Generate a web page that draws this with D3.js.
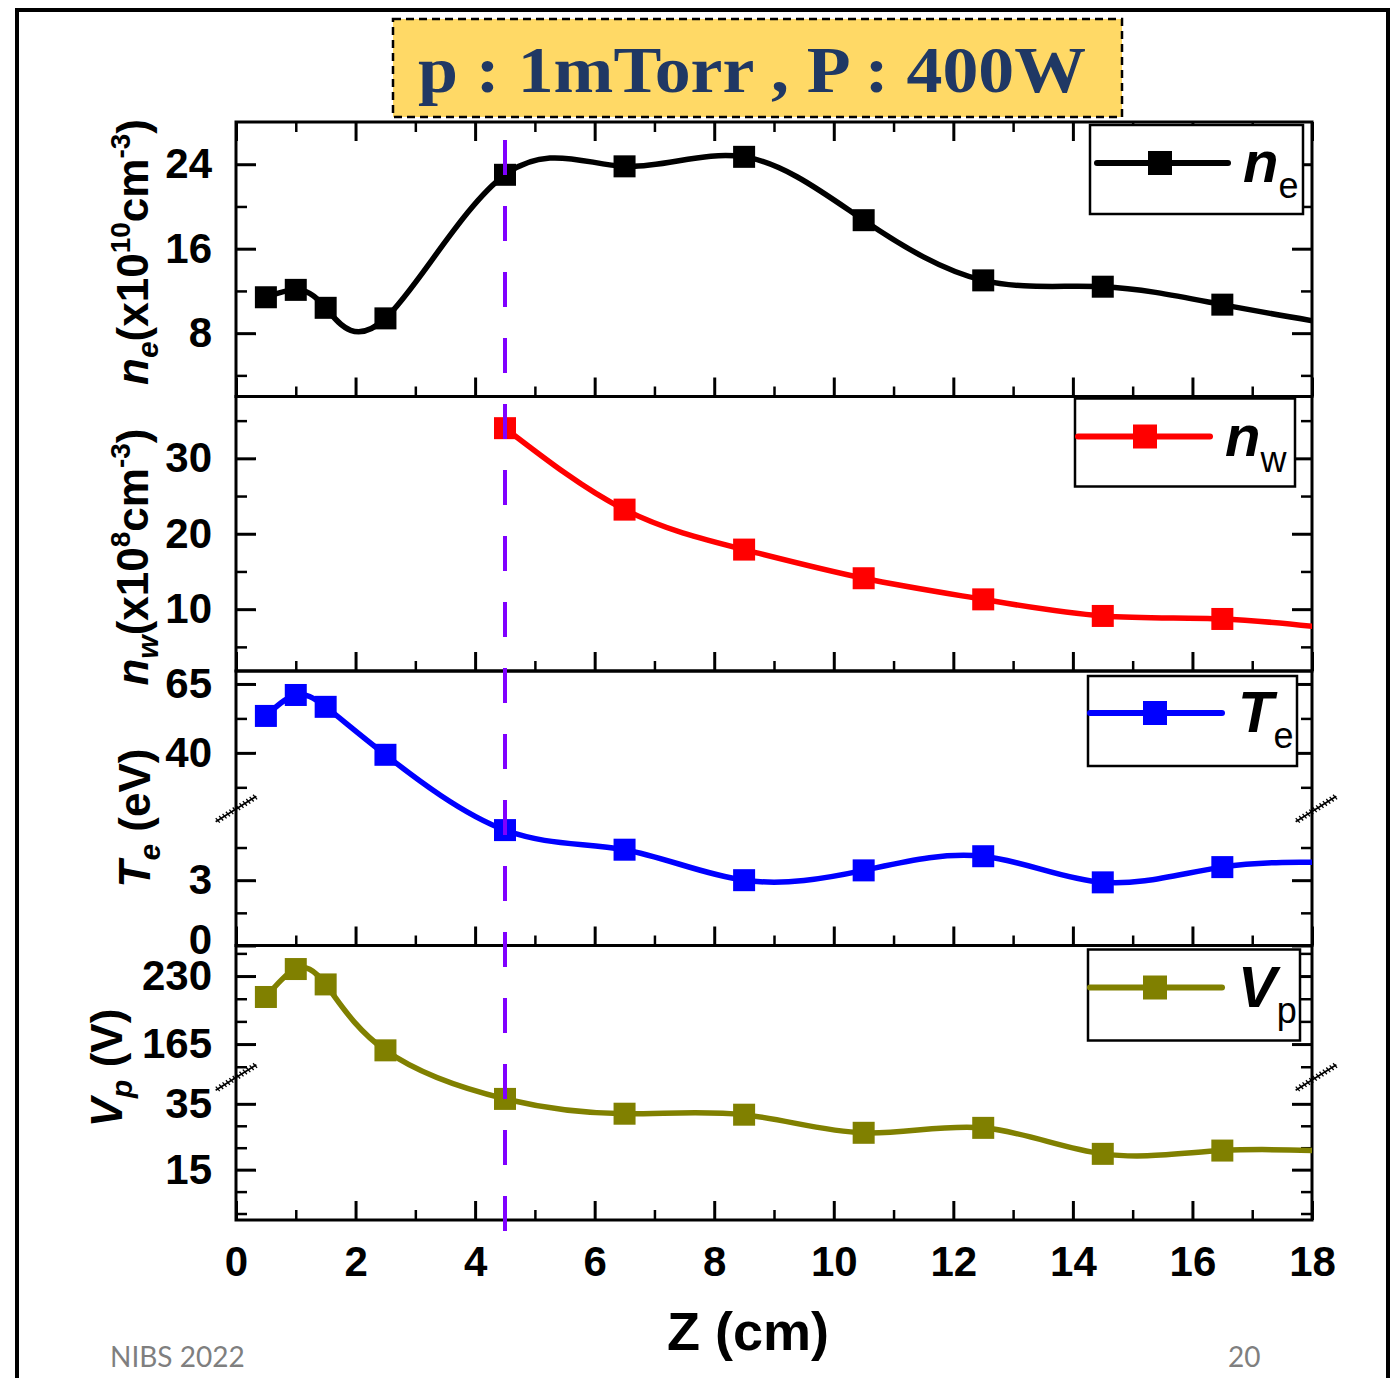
<!DOCTYPE html>
<html>
<head>
<meta charset="utf-8">
<script src="https://cdn.jsdelivr.net/npm/d3@7"></script>
<style>
body{margin:0;background:#fff;}
svg{display:block;}
.tick text{font-family:"Liberation Sans",Arial,sans-serif;font-weight:bold;font-size:42px;fill:#000;}
</style>
</head>
<body>
<div id="vis"></div>
<script>
// measured positions (cm); 18.5 lies just past the frame and gets clipped
var zPos   = [0.5, 1, 1.5, 2.5, 4.5, 6.5, 8.5, 10.5, 12.5, 14.5, 16.5, 18.5];
var neVals = [11.4, 12.1, 10.4, 9.4, 23.0, 23.8, 24.7, 18.7, 13.0, 12.4, 10.7, 8.7];
var nwZ    = [4.5, 6.5, 8.5, 10.5, 12.5, 14.5, 16.5, 18.5];
var nwVals = [34.0, 23.2, 17.9, 14.1, 11.3, 9.1, 8.7, 7.3];
var teVals = [53.4, 61.0, 56.7, 39.3, 5.3, 4.4, 3.0, 3.45, 4.1, 2.9, 3.6, 3.8];
var vpVals = [210, 236.7, 222, 159, 36.5, 32, 31.7, 26.2, 27.7, 19.8, 20.8, 20.5];

// tick values
var xMajor  = [0, 2, 4, 6, 8, 10, 12, 14, 16, 18];
var xMinor  = [1, 3, 5, 7, 9, 11, 13, 15, 17];
var neMajor = [8, 16, 24];
var neMinor = [4, 12, 20];
var nwMajor = [10, 20, 30];
var nwMinor = [5, 15, 25, 35];
var teMajor = [0, 3, 40, 65];
var teMinor = [1.5, 4.5, 27.5, 52.5];
var vpMajor = [15, 35, 165, 230];
var vpMinor = [1.67, 8.33, 21.67, 28.33, 143.33, 186.67, 208.33, 251.67];

var dashZ = 4.5;   // purple marker line

var width = 1398, height = 1378;
var xLeft = 236, xRight = 1312, plotTop = 122, panelH = 274.5;

var svg = d3.select("#vis").append("svg").attr("width", width).attr("height", height);

var x = d3.scaleLinear().domain([0, 18]).range([xLeft, xRight]);

// outer slide frame
svg.append("rect").attr("x", 17).attr("y", 10).attr("width", 1371).attr("height", 1420)
   .attr("fill", "none").attr("stroke", "#000").attr("stroke-width", 4);

// title box
svg.append("rect").attr("x", 393).attr("y", 19).attr("width", 729).attr("height", 98)
   .attr("fill", "#FFD966").attr("stroke", "#000").attr("stroke-width", 2.5)
   .attr("stroke-dasharray", "8,5");
svg.append("text").attr("x", 418).attr("y", 92)
   .attr("textLength", 668).attr("lengthAdjust", "spacingAndGlyphs")
   .style("font-family", "'Liberation Serif','DejaVu Serif',serif").style("font-weight", "bold")
   .style("font-size", "66px").style("fill", "#203864")
   .text("p : 1mTorr , P : 400W");

var panels = [
  {z: zPos, v: neVals, color: "#000000", domain: [2, 28], range: [panelH, 0],
   major: neMajor, minor: neMinor, brk: null,
   leg: {x0: 1090, x1: 1303, y0: 3, y1: 92, ly: 41, lx0: 1097, lx1: 1228, mx: 1160, tx: 1243, main: "n", sub: "e"},
   title: [["n", 44, 0, "italic"], ["e", 30, 10, "italic"], ["(x10", 44, -10], ["10", 28, -18], ["cm", 44, 18], ["-3", 28, -18], [")", 44, 18]],
   tx: 148, ty: 252},
  {z: nwZ, v: nwVals, color: "#ff0000", domain: [1.8, 38.2], range: [panelH, 0],
   major: nwMajor, minor: nwMinor, brk: null,
   leg: {x0: 1075, x1: 1295, y0: 2, y1: 90, ly: 40, lx0: 1078, lx1: 1210, mx: 1145, tx: 1225, main: "n", sub: "w"},
   title: [["n", 44, 0, "italic"], ["w", 30, 10, "italic"], ["(x10", 44, -10], ["8", 28, -18], ["cm", 44, 18], ["-3", 28, -18], [")", 44, 18]],
   tx: 148, ty: 557},
  {z: zPos, v: teVals, color: "#0000ff", domain: [0, 6.2, 20, 69.7], range: [panelH, 139.5, 137, 0],
   major: teMajor, minor: teMinor, brk: 138,
   leg: {x0: 1088, x1: 1297, y0: 5, y1: 95, ly: 42, lx0: 1090, lx1: 1222, mx: 1155, tx: 1238, main: "T", sub: "e"},
   title: [["T", 44, 0, "italic"], ["e", 30, 10, "italic"], [" (eV)", 44, -10]],
   tx: 150, ty: 818},
  {z: zPos, v: vpVals, color: "#808000", domain: [-0.3, 42.7, 134, 259.2], range: [panelH, 133, 131, 0],
   major: vpMajor, minor: vpMinor, brk: 132,
   leg: {x0: 1088, x1: 1300, y0: 4, y1: 95, ly: 42, lx0: 1090, lx1: 1222, mx: 1155, tx: 1238, main: "V", sub: "p"},
   title: [["V", 44, 0, "italic"], ["p", 30, 10, "italic"], [" (V)", 44, -10]],
   tx: 122, ty: 1068}
];

function styleAxis(sel, sw){
  sel.select(".domain").remove();
  sel.selectAll(".tick line").attr("stroke", "#000").attr("stroke-width", sw);
}

// little hatched break symbol on the axis
function drawBreak(g, cx, cy){
  var b = g.append("g").attr("transform", "translate(" + cx + "," + cy + ") rotate(-32)");
  b.append("line").attr("x1", -24).attr("x2", 24).attr("y1", 0).attr("y2", 0)
   .attr("stroke", "#000").attr("stroke-width", 1.6);
  d3.range(-22, 23, 4).forEach(function(t){
    b.append("line").attr("x1", t).attr("x2", t + 1).attr("y1", -3).attr("y2", 3)
     .attr("stroke", "#000").attr("stroke-width", 1.3);
  });
}

panels.forEach(function(p, i){
  var top = plotTop + i * panelH;
  var g = svg.append("g").attr("transform", "translate(0," + top + ")");
  var y = d3.scaleLinear().domain(p.domain).range(p.range);

  g.append("clipPath").attr("id", "clip" + i).append("rect")
   .attr("x", xLeft).attr("y", 0).attr("width", xRight - xLeft).attr("height", panelH);

  // y axes, ticks pointing inward
  var yl = g.append("g").attr("transform", "translate(" + xLeft + ",0)")
   .call(d3.axisLeft(y).tickValues(p.major).tickSize(-20).tickSizeOuter(0).tickPadding(24).tickFormat(d3.format("d")))
   .call(styleAxis, 3);
  // the 0 label sits on the panel seam, nudge it up a little as in the original
  yl.selectAll(".tick text").filter(function(d){ return d === 0; }).attr("dy", "0.2em");
  g.append("g").attr("transform", "translate(" + xLeft + ",0)")
   .call(d3.axisLeft(y).tickValues(p.minor).tickSize(-11).tickSizeOuter(0).tickFormat(""))
   .call(styleAxis, 2.5);
  g.append("g").attr("transform", "translate(" + xRight + ",0)")
   .call(d3.axisRight(y).tickValues(p.major).tickSize(-20).tickSizeOuter(0).tickFormat(""))
   .call(styleAxis, 3);
  g.append("g").attr("transform", "translate(" + xRight + ",0)")
   .call(d3.axisRight(y).tickValues(p.minor).tickSize(-11).tickSizeOuter(0).tickFormat(""))
   .call(styleAxis, 2.5);

  // x ticks at the bottom of every panel
  var last = (i === panels.length - 1);
  g.append("g").attr("transform", "translate(0," + panelH + ")")
   .call(d3.axisBottom(x).tickValues(xMajor).tickSize(-19).tickSizeOuter(0).tickPadding(26)
         .tickFormat(last ? d3.format("d") : ""))
   .call(styleAxis, 3);
  g.append("g").attr("transform", "translate(0," + panelH + ")")
   .call(d3.axisBottom(x).tickValues(xMinor).tickSize(-10).tickSizeOuter(0).tickFormat(""))
   .call(styleAxis, 2.5);
  if (i === 0) {
    g.append("g").call(d3.axisTop(x).tickValues(xMajor).tickSize(-19).tickSizeOuter(0).tickFormat(""))
     .call(styleAxis, 3);
    g.append("g").call(d3.axisTop(x).tickValues(xMinor).tickSize(-10).tickSizeOuter(0).tickFormat(""))
     .call(styleAxis, 2.5);
  }

  g.append("rect").attr("x", xLeft).attr("y", 0).attr("width", xRight - xLeft).attr("height", panelH)
   .attr("fill", "none").attr("stroke", "#000").attr("stroke-width", 3);

  if (p.brk !== null) {
    drawBreak(g, xLeft, p.brk);
    drawBreak(g, xRight + 4, p.brk);
  }

  // series
  var pts = p.z.map(function(z, k){ return {z: z, v: p.v[k]}; });
  var line = d3.line().x(function(d){ return x(d.z); }).y(function(d){ return y(d.v); })
               .curve(d3.curveNatural);
  var s = g.append("g").attr("clip-path", "url(#clip" + i + ")");
  s.append("path").datum(pts).attr("d", line).attr("fill", "none")
   .attr("stroke", p.color).attr("stroke-width", 5.5).attr("stroke-linejoin", "round");
  s.selectAll("rect.mk").data(pts).enter().append("rect").attr("class", "mk")
   .attr("x", function(d){ return x(d.z) - 11; }).attr("y", function(d){ return y(d.v) - 11; })
   .attr("width", 22).attr("height", 22).attr("fill", p.color);

  // legend
  var L = p.leg;
  var lg = g.append("g");
  lg.append("rect").attr("x", L.x0).attr("y", L.y0).attr("width", L.x1 - L.x0).attr("height", L.y1 - L.y0)
    .attr("fill", "#fff").attr("stroke", "#000").attr("stroke-width", 2.5);
  lg.append("line").attr("x1", L.lx0).attr("x2", L.lx1).attr("y1", L.ly).attr("y2", L.ly)
    .attr("stroke", p.color).attr("stroke-width", 6).attr("stroke-linecap", "round");
  lg.append("rect").attr("x", L.mx - 12).attr("y", L.ly - 12).attr("width", 24).attr("height", 24).attr("fill", p.color);
  var lt = lg.append("text").attr("x", L.tx).attr("y", L.ly + 19)
    .style("font-family", "'Liberation Sans',Arial,sans-serif").style("fill", "#000");
  lt.append("tspan").style("font-size", "58px").style("font-style", "italic").style("font-weight", "bold").text(L.main);
  lt.append("tspan").style("font-size", "36px").attr("dy", 16).text(L.sub);

  // y title
  var t = svg.append("text")
    .attr("transform", "translate(" + p.tx + "," + p.ty + ") rotate(-90)")
    .attr("text-anchor", "middle")
    .style("font-family", "'Liberation Sans',Arial,sans-serif").style("font-weight", "bold").style("fill", "#000");
  p.title.forEach(function(part){
    var ts = t.append("tspan").style("font-size", part[1] + "px").attr("dy", part[2]).text(part[0]);
    if (part[3]) ts.style("font-style", part[3]);
  });
});

// dashed purple line at z = 4.5
svg.append("line").attr("x1", x(dashZ)).attr("x2", x(dashZ)).attr("y1", 140).attr("y2", 1242)
   .attr("stroke", "#7F00FF").attr("stroke-width", 4).attr("stroke-dasharray", "35,31");

// x title
svg.append("text").attr("x", 748).attr("y", 1350).attr("text-anchor", "middle")
   .style("font-family", "'Liberation Sans',Arial,sans-serif").style("font-weight", "bold")
   .style("font-size", "54px").text("Z (cm)");

// footer
svg.append("text").attr("x", 110).attr("y", 1367)
   .style("font-family", "Lato,'Open Sans',sans-serif").style("font-size", "28px").style("fill", "#7f7f7f")
   .text("NIBS 2022");
svg.append("text").attr("x", 1228).attr("y", 1367)
   .style("font-family", "Lato,'Open Sans',sans-serif").style("font-size", "28px").style("fill", "#7f7f7f")
   .text("20");
</script>
</body>
</html>
